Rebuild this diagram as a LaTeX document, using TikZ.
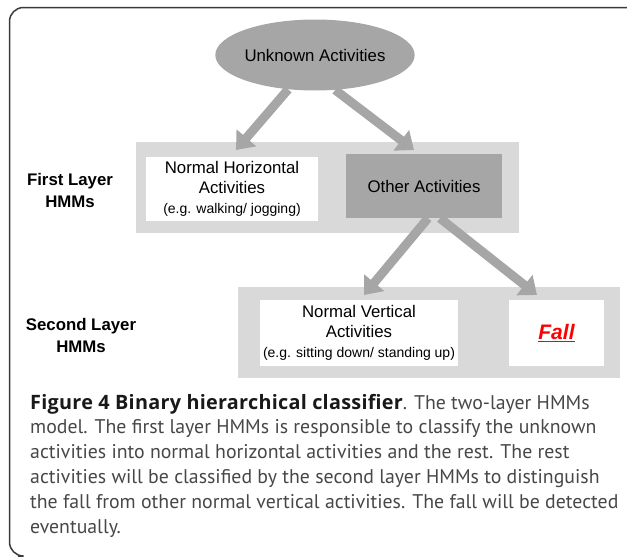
\documentclass[tikz,border=0pt]{standalone}
\usepackage{fontspec}
\setmainfont{Liberation Sans}
\newfontfamily\capfont{PT Sans}
\newfontfamily\capbold{Open Sans}[LetterSpace=1.4]
\usetikzlibrary{arrows.meta,shapes.geometric}
\definecolor{panelgray}{HTML}{D9D9D9}
\definecolor{boxgray}{HTML}{A6A6A6}
\definecolor{framegray}{HTML}{3A3A3A}
\newcommand{\egtext}[1]{{\fontsize{14}{18}\selectfont #1}}
\tikzset{
panel/.style={
  rectangle,
  fill=panelgray,
  minimum width=383pt,
  minimum height=91pt
},
whitebox/.style={
  rectangle,
  fill=white,
  align=center,
  inner sep=0pt,
  font=\fontsize{16.8}{20}\selectfont
},
layerlabel/.style={align=center, font=\bfseries\fontsize{16.8}{22}\selectfont},
flow/.style={draw=boxgray, line width=9pt, -{Triangle[width=25pt,length=16pt]}},
captext/.style={anchor=base west, inner sep=0pt, text=black!72,
  font=\capfont\fontsize{19.8}{25}\selectfont}
}
\begin{document}
\begin{tikzpicture}[x=1pt,y=-1pt]
\useasboundingbox (0,0) rectangle (627,557);
% outer frame
\draw[framegray, line width=1.5pt, rounded corners=14pt]
  (627,7.5) -- (9.5,7.5) -- (9.5,556) -- (18,556);
% first layer
\node[panel] (layer1) at (327.5,187.5) {};
\node[whitebox, minimum width=172pt, minimum height=64pt] (horiz) at (232,189)
  {Normal Horizontal\\Activities\\\egtext{(e.g. walking/ jogging)}};
\node[whitebox, fill=boxgray, minimum width=156pt, minimum height=64pt] (other) at (424,186)
  {Other Activities};
\node[layerlabel] (lab1) at (70,190) {First Layer\\HMMs};
% second layer
\node[panel, minimum width=382pt] (layer2) at (429,332.5) {};
\node[whitebox, minimum width=198pt, minimum height=66pt] (vert) at (359,333)
  {Normal Vertical\\Activities\\\egtext{(e.g. sitting down/ standing up)}};
\node[whitebox, minimum width=95pt, minimum height=66pt] (fall) at (556.5,333)
  {\textcolor{red}{\fontsize{21}{24}\selectfont\bfseries\itshape\underline{Fall}}};
\node[layerlabel] (lab2) at (81,335) {Second Layer\\HMMs};
% root node
\node[ellipse, fill=boxgray, inner sep=0pt, minimum width=174pt, minimum height=71pt,
  font=\fontsize{16.8}{20}\selectfont] (unknown) at (315,55) {Unknown Activities};
% arrows
\coordinate (tipH) at (236,150);
\coordinate (tipO) at (414,150);
\coordinate (tipV) at (364,295);
\coordinate (tipF) at (537,295);
\draw[flow] (unknown.232) -- (tipH);
\draw[flow] (unknown.300) -- (tipO);
\draw[flow] ([xshift=4pt]other.south) -- (tipV);
\draw[flow] ([xshift=16pt]other.south) -- (tipF);
% caption
\foreach \ln [count=\i from 0] in {
  {\textcolor{black!90}{\capbold\bfseries Figure 4 Binary hierarchical classifier}. The two-layer HMMs},
  model. The first layer HMMs is responsible to classify the unknown,
  activities into normal horizontal activities and the rest. The rest,
  activities will be classified by the second layer HMMs to distinguish,
  the fall from other normal vertical activities. The fall will be detected,
  eventually.}
  \node[captext] (cap\i) at (30,409+24.8*\i) {\ln};
\end{tikzpicture}
\end{document}
